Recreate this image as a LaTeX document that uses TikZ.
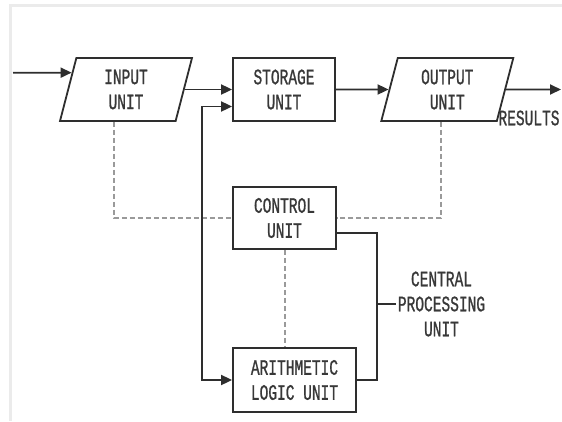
\documentclass[tikz,border=0pt]{standalone}
\usepackage{fontspec}
\setmainfont[FakeStretch=0.66,FakeBold=0.9,AutoFakeBold=0.9]{Liberation Mono}
\usetikzlibrary{arrows.meta,shapes.geometric,calc}

\definecolor{linec}{HTML}{2E2E2E}
\definecolor{dashc}{HTML}{9A9A9A}
\definecolor{framec}{HTML}{EBEBEB}
\definecolor{textc}{HTML}{383838}

\begin{document}
\begin{tikzpicture}[x=1pt,y=-1pt,
  label/.style={font=\fontsize{22}{25}\selectfont\bfseries, text=textc, align=center, inner sep=2pt},
  unit/.style={label, draw=linec, line width=1.8pt, fill=white, inner sep=0pt},
  box/.style={unit, rectangle},
  io/.style={unit, trapezium, trapezium left angle=67.6, trapezium right angle=112.4,
    trapezium stretches body, minimum width=132pt, minimum height=63pt},
  wire/.style={draw=linec, line width=1.8pt},
  arr/.style={wire, -{Triangle[length=11pt,width=10pt]}},
  biarr/.style={wire, {Triangle[length=11pt,width=10pt]}-{Triangle[length=11pt,width=10pt]}},
  dashline/.style={draw=dashc, line width=2pt, dash pattern=on 5pt off 3pt}]

\useasboundingbox (0,0) rectangle (562,421);

% light frame along the top and left edges
\draw[framec, line width=2.5pt] (10.7,421) -- (10.7,5.3) -- (562,5.3);

% units
\node[io]  (in)  at (126,89.5)   {INPUT\\UNIT};
\node[box, minimum width=102pt, minimum height=63pt] (st)  at (284,89.5)   {STORAGE\\UNIT};
\node[io]  (out) at (447.3,89.5) {OUTPUT\\UNIT};
\node[box, minimum width=103pt, minimum height=62pt] (ctl) at (284.5,218)  {CONTROL\\UNIT};
\node[box, minimum width=123pt, minimum height=64pt] (alu) at (294.5,380)  {ARITHMETIC\\LOGIC UNIT};

\node[label] (res) at (529,118) {RESULTS};
\node[label] (cpu) at (441.5,304) {CENTRAL\\PROCESSING\\UNIT};

\coordinate (src)  at (13,72.7);
\coordinate (sink) at (561,89.5);
\coordinate (inb)  at ($(in.bottom left corner)!0.47!(in.bottom right corner)$);
\coordinate (outb) at ($(out.bottom left corner)!0.52!(out.bottom right corner)$);

% control links
\draw[dashline] (inb) |- (ctl.west);
\draw[dashline] (outb) |- (ctl.east);
\draw[dashline] (ctl.south) -- (ctl.south |- alu.north);

% data flow
\draw[arr] (src) -- ($(in.top left corner)!0.24!(in.bottom left corner)$);
\draw[arr] (in.east) -- (in.east -| st.west);
\draw[arr] (st.east) -- (out.west);
\draw[arr] (out.east) -- (sink);
\draw[biarr] ([yshift=-17pt]st.west) -- ++(-30,0) |- (alu.west);

% CPU bracket
\draw[wire] ([yshift=-14.7pt]ctl.east) -- ++(40,0) coordinate (cb) |- (alu.east);
\draw[wire] (cb |- cpu.west) -- (cpu.west);
\end{tikzpicture}
\end{document}
